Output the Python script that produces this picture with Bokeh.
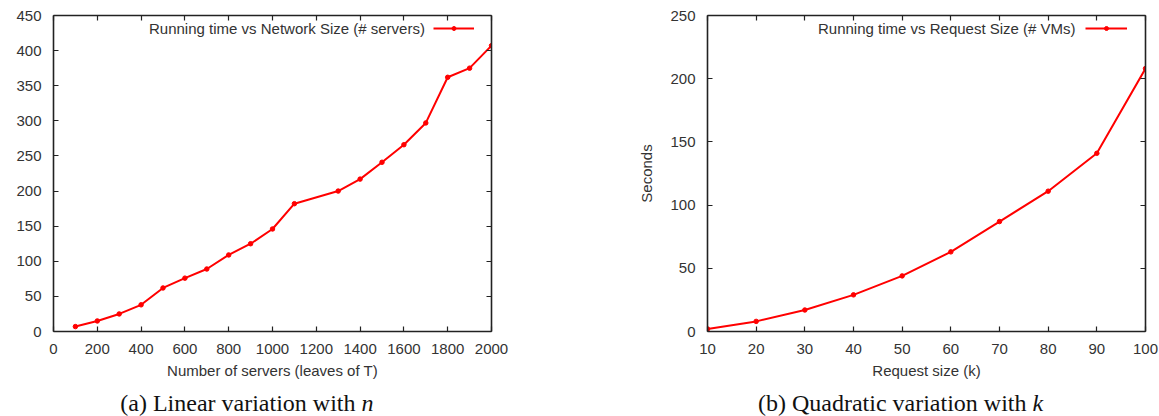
from bokeh.plotting import figure
from bokeh.models import LinearAxis, SingleIntervalTicker, Legend, LegendItem, Range1d
from bokeh.layouts import row, column
from bokeh.core.properties import value
from bokeh.embed import file_html
from bokeh.resources import INLINE

# ---- data ----
servers = [100, 200, 300, 400, 500, 600, 700, 800, 900, 1000, 1100,
           1300, 1400, 1500, 1600, 1700, 1800, 1900, 2000]
servers_seconds = [7, 15, 25, 38, 62, 76, 89, 109, 125, 146, 182,
                   200, 217, 241, 266, 297, 362, 375, 407]

request_k = [10, 20, 30, 40, 50, 60, 70, 80, 90, 100]
request_seconds = [2, 8, 17, 29, 44, 63, 87, 111, 141, 208]

legend_a = "Running time vs Network Size (# servers)"
legend_b = "Running time vs Request Size (# VMs)"
xlabel_a = "Number of servers (leaves of T)"
xlabel_b = "Request size (k)"
ylabel_b = "Seconds"
caption_a = ("(a) Linear variation with ", "n")
caption_b = ("(b) Quadratic variation with ", "k")

SANS = "Liberation Sans"
SERIF = "Liberation Serif"
TXT = "#333333"
AX = "#222222"
RED = "#ff0000"
FS = "15px"


def style_axis(ax, ticker, labels=True):
    ax.ticker = ticker
    ax.axis_line_color = AX
    ax.axis_line_width = 1.6
    ax.major_tick_line_color = AX
    ax.major_tick_line_width = 1.2
    ax.major_tick_in = 5
    ax.major_tick_out = 0
    ax.minor_tick_line_color = None
    ax.major_label_standoff = 8
    ax.axis_label_text_font = SANS
    ax.axis_label_text_font_size = FS
    ax.axis_label_text_font_style = "normal"
    ax.axis_label_text_color = TXT
    if labels:
        ax.major_label_text_font = SANS
        ax.major_label_text_font_size = FS
        ax.major_label_text_color = TXT
    else:
        ax.major_label_text_font_size = "1px"
        ax.major_label_text_color = None
        ax.major_label_standoff = 0


def make_panel(xs, ys, xr, yr, xint, yint, leg_text, leg_x, samp_x, samp_w,
               xlabel, ylabel, border_left, border_right):
    p = figure(frame_width=438, frame_height=316,
               min_border_left=border_left, min_border_right=border_right,
               min_border_top=15, min_border_bottom=56,
               x_range=Range1d(*xr), y_range=Range1d(*yr),
               output_backend="svg", toolbar_location=None,
               x_axis_location=None, y_axis_location=None)
    p.outline_line_color = None
    p.grid.visible = False
    p.background_fill_color = "white"
    p.border_fill_color = "white"

    xt = SingleIntervalTicker(interval=xint)
    yt = SingleIntervalTicker(interval=yint)

    xb = LinearAxis(axis_label=xlabel)
    style_axis(xb, xt)
    xb.axis_label_standoff = 5
    p.add_layout(xb, "below")

    yl = LinearAxis(axis_label=ylabel)
    style_axis(yl, yt)
    yl.axis_label_standoff = 12
    p.add_layout(yl, "left")

    xa = LinearAxis()
    style_axis(xa, xt, labels=False)
    p.add_layout(xa, "above")
    yrax = LinearAxis()
    style_axis(yrax, yt, labels=False)
    p.add_layout(yrax, "right")

    ln = p.line(xs, ys, line_color=RED, line_width=2)
    sc = p.scatter(xs, ys, marker="circle", size=4.5, fill_color=RED, line_color=RED)

    vy = 294
    leg1 = Legend(items=[LegendItem(label=value(leg_text), renderers=[ln])],
                  location=(leg_x, vy), glyph_width=0, glyph_height=18,
                  label_height=18, label_standoff=0, padding=0, margin=0,
                  spacing=0, border_line_color=None, background_fill_alpha=0,
                  label_text_font=SANS, label_text_font_size=FS,
                  label_text_color=TXT)
    leg2 = Legend(items=[LegendItem(label=value(" "), renderers=[ln, sc])],
                  location=(samp_x, vy + 4), glyph_width=samp_w, glyph_height=10,
                  label_height=10, label_standoff=0, padding=0, margin=0,
                  spacing=0, border_line_color=None, background_fill_alpha=0,
                  label_text_font=SANS, label_text_font_size="6px",
                  label_text_color=TXT)
    p.add_layout(leg1)
    p.add_layout(leg2)
    return p


def make_caption(width, cap, split):
    c = figure(width=width, height=29, min_border=0,
               x_range=Range1d(0, width), y_range=Range1d(0, 29),
               output_backend="svg", toolbar_location=None,
               x_axis_location=None, y_axis_location=None)
    c.outline_line_color = None
    c.grid.visible = False
    c.text(x=[split], y=[14], text=[cap[0]], text_font=value(SERIF),
           text_font_size="24px", text_align="right", text_baseline="middle",
           text_color="#111111")
    c.text(x=[split], y=[14], text=[cap[1]], text_font=value(SERIF),
           text_font_size="24px", text_font_style="italic",
           text_align="left", text_baseline="middle", text_color="#111111")
    return c


p1 = make_panel(servers, servers_seconds, (0, 2000), (0, 450), 200, 50,
                legend_a, 96, 380, 41, xlabel_a, None, 53, 89)
p2 = make_panel(request_k, request_seconds, (10, 100), (0, 250), 10, 50,
                legend_b, 111, 378, 42, xlabel_b, ylabel_b, 127, 14)

c1 = make_caption(580, caption_a, 361)
c2 = make_caption(579, caption_b, 452)

layout = column(row(p1, p2), row(c1, c2))
open("out.html", "w").write(file_html(layout, INLINE))
